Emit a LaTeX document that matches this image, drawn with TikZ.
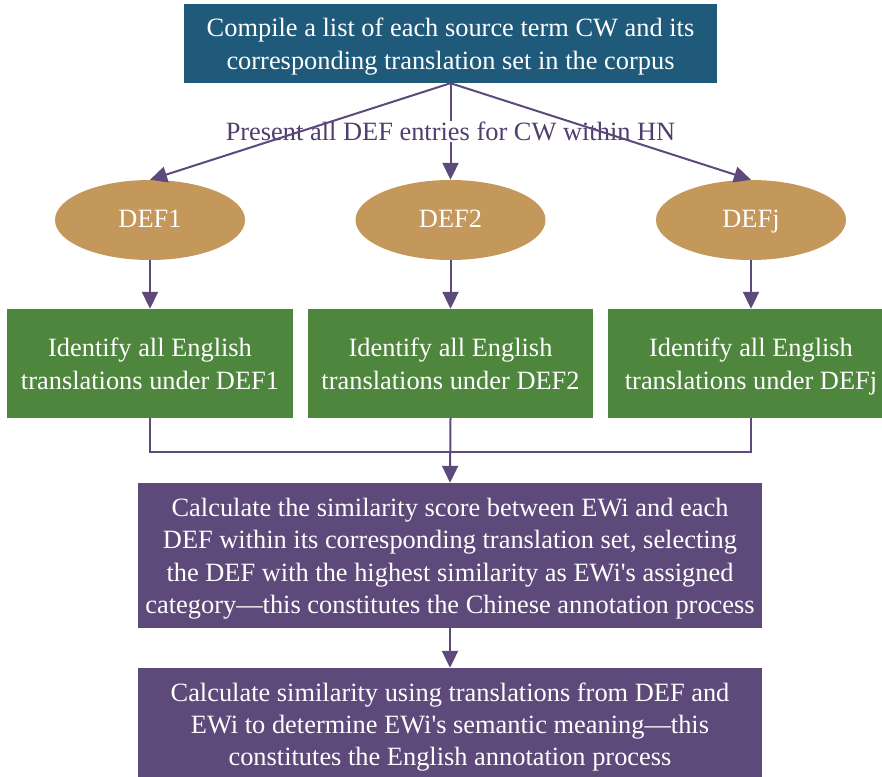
\documentclass[tikz,border=0pt]{standalone}
\usepackage{fontspec}
\setmainfont{Liberation Serif}[Ligatures=TeXOff]
\usetikzlibrary{arrows.meta,shapes.geometric}
\definecolor{topblue}{RGB}{31,90,122}
\definecolor{deftan}{RGB}{196,151,90}
\definecolor{grn}{RGB}{78,134,62}
\definecolor{purp}{RGB}{94,74,122}
\definecolor{lblpurp}{RGB}{80,62,110}
\newcommand\topstrut{\rule{0pt}{28.6pt}}
\begin{document}
\begin{tikzpicture}[x=1pt,y=-1pt,
  txt/.style={text=white, align=center, font=\fontsize{26.4}{32.3}\selectfont, inner sep=0pt},
  boxnode/.style={rectangle, txt},
  defnode/.style={ellipse, txt, fill=deftan, minimum width=190pt, minimum height=80pt},
  conn/.style={draw=purp, line width=2pt},
  arr/.style={conn, -{Triangle[width=16pt,length=17pt]}},
  lbl/.style={fill=white, text=lblpurp, font=\fontsize{26.4}{32}\selectfont, inner sep=1pt}
]
\clip (0,0) rectangle (882,776);
\fill[white] (0,0) rectangle (882,776);

\node[boxnode, fill=topblue, minimum width=533pt, minimum height=79pt] (top) at (450.5,43.5)
  {\topstrut Compile a list of each source term CW and its\\corresponding translation set in the corpus\strut};

\node[defnode] (d1) at (150,220) {\rule{0pt}{24pt}DEF1\strut};
\node[defnode] (d2) at (450.5,220) {\rule{0pt}{24pt}DEF2\strut};
\node[defnode] (dj) at (751,220) {\rule{0pt}{24pt}DEFj\strut};

\node[boxnode, fill=grn, minimum width=286pt, minimum height=109pt] (g1) at (150,363.5)
  {\topstrut Identify all English\\translations under DEF1\strut};
\node[boxnode, fill=grn, minimum width=285pt, minimum height=109pt] (g2) at (450.5,363.5)
  {\topstrut Identify all English\\translations under DEF2\strut};
\node[boxnode, fill=grn, minimum width=286pt, minimum height=109pt] (g3) at (751,363.5)
  {\topstrut Identify all English\\translations under DEFj\strut};

\node[boxnode, fill=purp, minimum width=624pt, minimum height=145pt] (p1) at (450,555.5)
  {\topstrut Calculate the similarity score between EWi and each\\DEF within its corresponding translation set, selecting\\the DEF with the highest similarity as EWi's assigned\\category—this constitutes the Chinese annotation process\strut};
\node[boxnode, fill=purp, minimum width=624pt, minimum height=112pt] (p2) at (450,724)
  {\topstrut Calculate similarity using translations from DEF and\\EWi to determine EWi's semantic meaning—this\\constitutes the English annotation process\strut};

\draw[arr] (top.south) -- node[lbl] (lab) {Present all DEF entries for CW within HN} (d2.north);
\draw[arr] (top.south) -- (d1.north);
\draw[arr] (top.south) -- (dj.north);

\draw[arr] (d1.south) -- (g1.north);
\draw[arr] (d2.south) -- (g2.north);
\draw[arr] (dj.south) -- (g3.north);

\coordinate (jn) at (450.5,452);
\draw[conn] (g1.south) |- (jn);
\draw[conn] (g3.south) |- (jn);
\draw[arr] (g2.south) -- (p1.north);

\draw[arr] (p1.south) -- (p2.north);
\end{tikzpicture}
\end{document}
